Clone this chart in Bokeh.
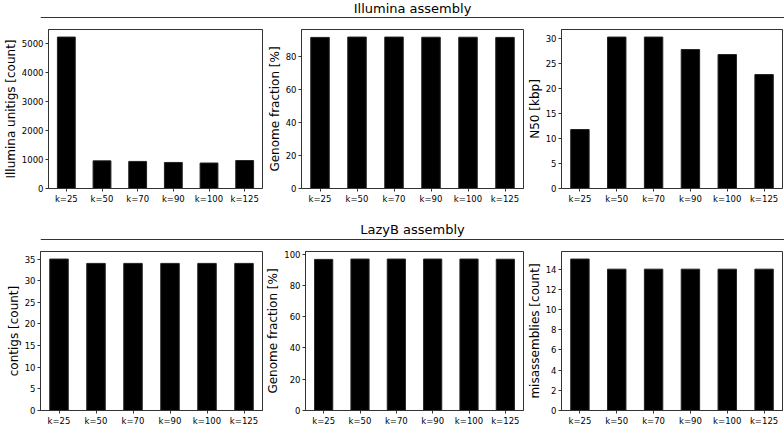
from bokeh.plotting import figure
from bokeh.layouts import column, row
from bokeh.models import Range1d, FixedTicker, FactorRange, Span, ColumnDataSource
from bokeh.core.properties import value
from bokeh.embed import file_html
from bokeh.resources import INLINE

# ---- data ----
k_labels = ["k=25", "k=50", "k=70", "k=90", "k=100", "k=125"]

illumina_unitigs = [5230, 955, 935, 900, 880, 965]
illumina_genome_fraction = [91.6, 91.8, 91.8, 91.7, 91.7, 91.6]
illumina_n50 = [11.8, 30.3, 30.3, 27.8, 26.8, 22.8]

lazyb_contigs = [35, 34, 34, 34, 34, 34]
lazyb_genome_fraction = [96.7, 96.9, 96.9, 96.9, 96.9, 96.8]
lazyb_misassemblies = [15, 14, 14, 14, 14, 14]

unitig_ticks = [0, 1000, 2000, 3000, 4000, 5000]
illumina_gf_ticks = [0, 20, 40, 60, 80]
n50_ticks = [0, 5, 10, 15, 20, 25, 30]
contig_ticks = [0, 5, 10, 15, 20, 25, 30, 35]
lazyb_gf_ticks = [0, 20, 40, 60, 80, 100]
misassembly_ticks = [0, 2, 4, 6, 8, 10, 12, 14]

illumina_title = "Illumina assembly"
lazyb_title = "LazyB assembly"

FONT = "DejaVu Sans"
EDGE = "#333333"
FRAME_H = 162
BOTTOM = 15
TOP = 5
# (width, left border, right border) for the three columns
COLS = [(263, 40, 1), (261, 38, 1), (260, 37, 2)]


def header(title, h, ty, ly):
    p = figure(width=sum(c[0] for c in COLS), height=h, x_range=Range1d(0, 1), y_range=Range1d(h, 0),
               output_backend="svg", toolbar_location=None,
               x_axis_location=None, y_axis_location=None,
               min_border_left=40, min_border_right=0, min_border_top=0, min_border_bottom=0)
    p.grid.visible = False
    p.outline_line_color = None
    p.text(x=[0.5], y=[ty], text=[title], text_align="center", text_baseline="middle",
           text_font=value(FONT), text_font_size="13px", text_color="black")
    p.add_layout(Span(location=ly, dimension="width", line_color=EDGE, line_width=1))
    return p


def bar_fig(values, ticks, ylabel, col):
    w, lb, rb = COLS[col]
    src = ColumnDataSource(dict(k=k_labels, v=values))
    p = figure(width=w, height=TOP + FRAME_H + BOTTOM,
               x_range=FactorRange(*k_labels), y_range=Range1d(0, 1.05 * max(values)),
               output_backend="svg", toolbar_location=None,
               min_border_left=lb, min_border_right=rb,
               min_border_top=TOP, min_border_bottom=BOTTOM)
    p.vbar(x="k", top="v", width=0.5, source=src, fill_color="black", line_color="#222222")
    p.grid.visible = False
    p.yaxis.ticker = FixedTicker(ticks=ticks)
    p.yaxis.axis_label = ylabel
    for ax in (p.xaxis[0], p.yaxis[0]):
        ax.major_label_text_font = FONT
        ax.major_label_text_font_size = "8.5px"
        ax.major_label_text_color = "black"
        ax.axis_label_text_font = FONT
        ax.axis_label_text_font_size = "12px"
        ax.axis_label_text_font_style = "normal"
        ax.axis_label_text_color = "black"
        ax.minor_tick_line_color = None
        ax.major_tick_out = 3
        ax.major_tick_in = 0
        ax.major_label_standoff = 2
        ax.axis_line_color = EDGE
        ax.major_tick_line_color = EDGE
    p.yaxis.axis_label_standoff = 1
    p.outline_line_color = EDGE
    p.outline_line_alpha = 1
    return p


h1 = header(illumina_title, 24, 8, 17)
r1 = row(
    bar_fig(illumina_unitigs, unitig_ticks, "Illumina unitigs [count]", 0),
    bar_fig(illumina_genome_fraction, illumina_gf_ticks, "Genome fraction [%]", 1),
    bar_fig(illumina_n50, n50_ticks, "N50 [kbp]", 2),
)
h2 = header(lazyb_title, 40, 23, 33)
r2 = row(
    bar_fig(lazyb_contigs, contig_ticks, "contigs [count]", 0),
    bar_fig(lazyb_genome_fraction, lazyb_gf_ticks, "Genome fraction [%]", 1),
    bar_fig(lazyb_misassemblies, misassembly_ticks, "misassemblies [count]", 2),
)

layout = column(h1, r1, h2, r2)
open("out.html", "w").write(file_html(layout, INLINE))
